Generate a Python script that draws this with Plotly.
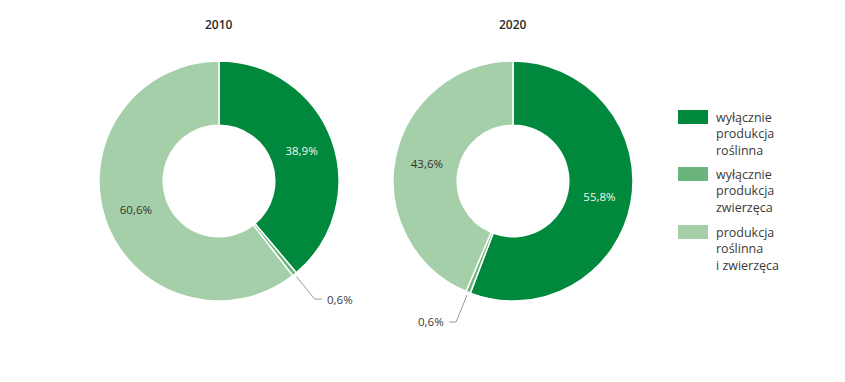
import math
import plotly.graph_objects as go

# window is 845x382; the page body has an 8px margin, so the figure is drawn at (8, 8)
OFF = 8
W, H = 845 - OFF, 382 - OFF

categories = ["wyłącznie produkcja roślinna", "wyłącznie produkcja zwierzęca", "produkcja roślinna i zwierzęca"]
legend_labels = ["wyłącznie<br>produkcja<br>roślinna", "wyłącznie<br>produkcja<br>zwierzęca", "produkcja<br>roślinna<br>i zwierzęca"]
years = ["2010", "2020"]
values_2010 = [38.9, 0.6, 60.6]
values_2020 = [55.8, 0.6, 43.6]
colors = ["#00893D", "#6CB47D", "#A5CFA9"]
text_colors = ["#f2f8f2", "#333333", "#333333"]

FONT = "Open Sans"
DARK = "#3a3a3a"

def px(x):
    return (x - OFF) / W

def py(y):
    return 1 - (y - OFF) / H

# pie geometry (screen pixels)
centers = [(219, 181), (513, 181)]
R = 120
hole = 0.465

def fmt(v):
    return f"{v:.1f}".replace(".", ",") + "%"

fig = go.Figure()
shapes = []
annotations = []

for (cx, cy), vals, yr in zip(centers, [values_2010, values_2020], years):
    texts = [fmt(v) if v >= 5 else "" for v in vals]
    fig.add_trace(go.Pie(
        labels=categories, values=vals, sort=False, direction="clockwise",
        rotation=0, hole=hole,
        domain=dict(x=[px(cx - R), px(cx + R)], y=[py(cy + R), py(cy - R)]),
        marker=dict(colors=colors, line=dict(color="white", width=1.5)),
        text=texts, textinfo="text", textposition="inside",
        insidetextorientation="horizontal",
        insidetextfont=dict(family=FONT, size=11.5, color=text_colors),
        showlegend=False, hoverinfo="label+value",
    ))
    annotations.append(dict(x=px(cx), y=py(25), xref="paper", yref="paper",
                            text=yr, showarrow=False,
                            font=dict(family=FONT, size=12, color="#2a2a2a", weight=600),
                            xanchor="center", yanchor="middle"))
    # leader lines for the small slices
    total = sum(vals)
    cum = 0
    for v in vals:
        mid = (cum + v / 2) / total
        cum += v
        if v >= 5:
            continue
        ang = 2 * math.pi * mid
        dx, dy = math.sin(ang), -math.cos(ang)   # screen direction (y down)
        p0 = (cx + (R + 3) * dx, cy + (R + 3) * dy)
        p1 = (cx + (R + 32) * dx, cy + (R + 32) * dy)
        side = 1 if dx >= 0 else -1
        p2 = (p1[0] + side * 7, p1[1])
        path = "M {:.5f} {:.5f} L {:.5f} {:.5f} L {:.5f} {:.5f}".format(
            px(p0[0]), py(p0[1]), px(p1[0]), py(p1[1]), px(p2[0]), py(p2[1]))
        shapes.append(dict(type="path", xref="paper", yref="paper", path=path,
                           line=dict(color="#9a9a9a", width=1)))
        annotations.append(dict(x=px(p2[0] + side * 3), y=py(p2[1]),
                                xref="paper", yref="paper", text=fmt(v), showarrow=False,
                                font=dict(family=FONT, size=11.5, color=DARK),
                                xanchor="left" if side > 0 else "right", yanchor="middle"))

# custom legend
leg_tops = [110, 167, 225]
for top, lab, col in zip(leg_tops, legend_labels, colors):
    shapes.append(dict(type="rect", xref="paper", yref="paper",
                       x0=px(678), x1=px(708), y0=py(top + 14), y1=py(top),
                       fillcolor=col, line=dict(width=0)))
    annotations.append(dict(x=px(714), y=py(top - 3), xref="paper", yref="paper",
                            text=lab, showarrow=False, align="left",
                            xanchor="left", yanchor="top",
                            font=dict(family=FONT, size=12.5, color=DARK)))

# faint right border
shapes.append(dict(type="line", xref="paper", yref="paper", x0=px(843.5), x1=px(843.5),
                   y0=0, y1=1, line=dict(color="#dcdcdc", width=1)))

fig.update_layout(width=W, height=H, margin=dict(l=0, r=0, t=0, b=0),
                  paper_bgcolor="white", plot_bgcolor="white",
                  shapes=shapes, annotations=annotations,
                  font=dict(family=FONT))
fig.write_html("out.html")
